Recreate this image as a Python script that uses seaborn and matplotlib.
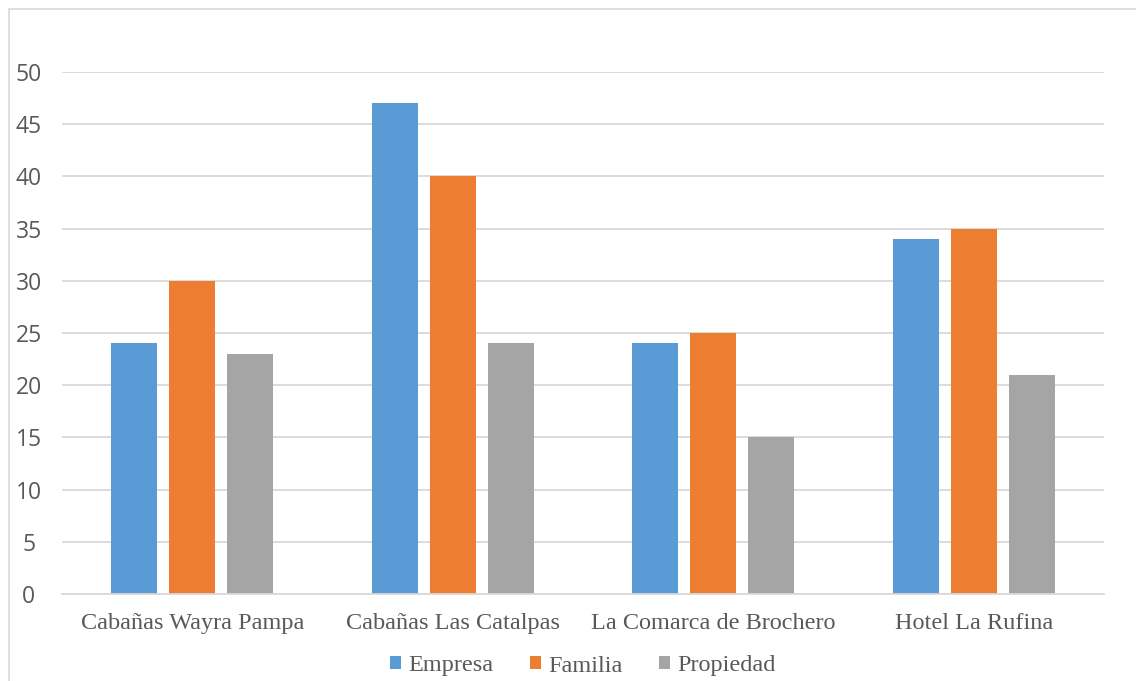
import matplotlib
matplotlib.use("Agg")
import matplotlib.pyplot as plt
import seaborn as sns
import pandas as pd
from matplotlib.patches import Rectangle, Patch

# Data
categories = ["Cabañas Wayra Pampa", "Cabañas Las Catalpas", "La Comarca de Brochero", "Hotel La Rufina"]
series_names = ["Empresa", "Familia", "Propiedad"]
empresa = [24, 47, 24, 34]
familia = [30, 40, 25, 35]
propiedad = [23, 24, 15, 21]
yticks = [0, 5, 10, 15, 20, 25, 30, 35, 40, 45, 50]

colors = ["#5B9BD5", "#ED7D31", "#A5A5A5"]

rows = []
for name, vals in zip(series_names, [empresa, familia, propiedad]):
    for cat, v in zip(categories, vals):
        rows.append({"categoria": cat, "serie": name, "valor": v})
df = pd.DataFrame(rows)

sns.set_style("white")
plt.rcParams["font.family"] = ["Open Sans", "DejaVu Sans"]

W, H = 1136, 681
fig = plt.figure(figsize=(W / 100, H / 100), dpi=100)

# chart frame
fig.patches.append(Rectangle((9 / W, -0.05), 1.1, 1 - 9 / H + 0.05, transform=fig.transFigure,
                             fill=False, edgecolor="#d9d9d9", linewidth=1.2, zorder=0))

ax = fig.add_axes([62 / W, 1 - 594 / H, (1104 - 62) / W, (594 - 72) / H])

sns.barplot(data=df, x="categoria", y="valor", hue="serie", order=categories,
            hue_order=series_names, palette=colors, width=0.668, gap=0.207,
            saturation=1, ax=ax, legend=False, edgecolor="none", linewidth=0)

ax.set_ylim(0, 50)
ax.set_xlim(-0.5, len(categories) - 0.5)
ax.set_yticks(yticks)
ax.yaxis.grid(True, color="#d9d9d9", linewidth=1.3)
ax.set_axisbelow(True)
for s in ["left", "right", "top"]:
    ax.spines[s].set_visible(False)
ax.spines["bottom"].set_color("#d9d9d9")
ax.spines["bottom"].set_linewidth(1.3)
ax.set_xlabel("")
ax.set_ylabel("")
ax.tick_params(axis="both", length=0)
ax.tick_params(axis="y", labelsize=16.5, labelcolor="#595959", pad=24)
ax.tick_params(axis="x", pad=14)
for lbl in ax.get_yticklabels():
    lbl.set_horizontalalignment("center")
for lbl in ax.get_xticklabels():
    lbl.set_fontfamily("Liberation Serif")
    lbl.set_fontsize(17.5)
    lbl.set_color("#595959")

handles = [Patch(facecolor=c, edgecolor="none") for c in colors]
fig.legend(handles, series_names, loc="center", bbox_to_anchor=(583 / W, 1 - 666 / H),
           ncol=3, frameon=False, handlelength=0.45, handleheight=0.45, handletextpad=0.3,
           columnspacing=1.5, prop={"family": "Liberation Serif", "size": 17.5},
           labelcolor="#595959")

fig.savefig("out.png", dpi=100)
